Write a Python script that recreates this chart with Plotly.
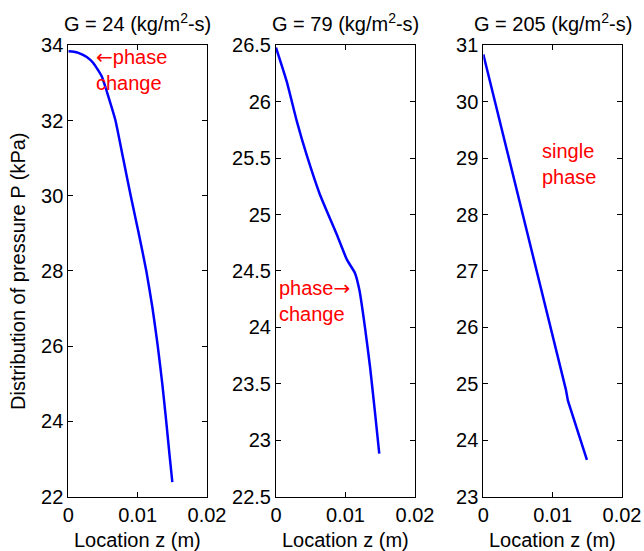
import plotly.graph_objects as go

# ---- data ----
z1 = [0, 0.0008, 0.00145, 0.00266, 0.0036, 0.00483, 0.0060, 0.0068, 0.0079, 0.0090, 0.01015, 0.01125, 0.01215, 0.0129, 0.01355, 0.01412, 0.0146, 0.0150]
p1 = [33.84, 33.83, 33.80, 33.69, 33.53, 33.17, 32.5, 32.0, 31.0, 30.0, 29.0, 28.0, 27.0, 26.0, 25.0, 24.0, 23.1, 22.38]

z2 = [0, 0.00154, 0.00298, 0.0044, 0.0063, 0.0087, 0.0102, 0.01137, 0.012, 0.0128, 0.01353, 0.0142, 0.01486]
p2 = [26.48, 26.18, 25.83, 25.53, 25.18, 24.83, 24.6, 24.48, 24.33, 24.0, 23.65, 23.27, 22.88]

z3 = [0, 0.0019, 0.0039, 0.0058, 0.0077, 0.0097, 0.0117, 0.0119, 0.0122, 0.0135, 0.01494]
p3 = [30.84, 29.9, 28.9, 27.95, 27.0, 26.0, 25.0, 24.9, 24.7, 24.2, 23.65]

titles = ["G = 24 (kg/m<sup>2</sup>-s)", "G = 79 (kg/m<sup>2</sup>-s)", "G = 205 (kg/m<sup>2</sup>-s)"]
x_tickvals = [0, 0.01, 0.02]
x_ticktext = ["0", "0.01", "0.02"]
y_ranges = [[22, 34], [22.5, 26.5], [23, 31]]
y_dticks = [2, 0.5, 1]
x_label = "Location z (m)"
y_label = "Distribution of pressure P (kPa)"

W, H = 644, 551
FONT = "Liberation Sans, Arial, Helvetica, sans-serif"
FS = 20

xdom_px = [(68.3, 207.0), (276.0, 415.0), (483.3, 622.0)]
ydom = [1 - 496.5 / H, 1 - 45.3 / H]
shapes = ["spline", "spline", "linear"]

fig = go.Figure()
series = [(z1, p1), (z2, p2), (z3, p3)]
for i, (zz, pp) in enumerate(series):
    sfx = "" if i == 0 else str(i + 1)
    fig.add_trace(go.Scatter(x=zz, y=pp, mode="lines",
                             line=dict(color="#0000ff", width=2.5, shape=shapes[i], smoothing=0.5),
                             xaxis="x" + sfx, yaxis="y" + sfx, showlegend=False,
                             hoverinfo="skip"))
    common = dict(showline=True, linecolor="black", linewidth=1, mirror="ticks",
                  ticks="inside", ticklen=5, tickcolor="black", showgrid=False,
                  zeroline=False, automargin=False,
                  tickfont=dict(family=FONT, size=FS, color="black"))
    fig.layout["xaxis" + sfx] = dict(domain=[xdom_px[i][0] / W, xdom_px[i][1] / W],
                                     range=[0, 0.02], tickvals=x_tickvals, ticktext=x_ticktext,
                                     anchor="y" + sfx, **common)
    fig.layout["yaxis" + sfx] = dict(domain=ydom, range=y_ranges[i], dtick=y_dticks[i],
                                     anchor="x" + sfx, **common)
    cx = (xdom_px[i][0] + xdom_px[i][1]) / 2 / W
    fig.add_annotation(text=titles[i], xref="paper", yref="paper", x=cx, y=1 - 23 / H,
                       xanchor="center", yanchor="middle", showarrow=False,
                       font=dict(family=FONT, size=FS, color="black"))
    fig.add_annotation(text=x_label, xref="paper", yref="paper", x=cx, y=1 - 540 / H,
                       xanchor="center", yanchor="middle", showarrow=False,
                       font=dict(family=FONT, size=FS, color="black"))

fig.add_annotation(text=y_label, xref="paper", yref="paper", x=18 / W, y=1 - 271 / H,
                   xanchor="center", yanchor="middle", textangle=-90, showarrow=False,
                   font=dict(family=FONT, size=FS, color="black"))

red = dict(family=FONT, size=FS, color="#ff0000")
LA = "<span style='font-family:DejaVu Sans'>\u2190</span>"
RA = "<span style='font-family:DejaVu Sans'>\u2192</span>"
fig.add_annotation(text=LA + "phase<br>change", xref="x", yref="y", x=0.0037, y=33.35,
                   xanchor="left", yanchor="middle", align="left", showarrow=False, font=red)
fig.add_annotation(text="phase" + RA + "<br>change", xref="x2", yref="y2", x=0.0001, y=24.24,
                   xanchor="left", yanchor="middle", align="left", showarrow=False, font=red)
fig.add_annotation(text="single<br>phase", xref="x3", yref="y3", x=0.0082, y=28.9,
                   xanchor="left", yanchor="middle", align="left", showarrow=False, font=red)

fig.update_layout(width=W, height=H, margin=dict(l=0, r=0, t=0, b=0),
                  paper_bgcolor="white", plot_bgcolor="white")

fig.write_html("out.html", config={"displayModeBar": False},
               post_script="document.body.style.margin='0';document.body.style.overflow='hidden';")
